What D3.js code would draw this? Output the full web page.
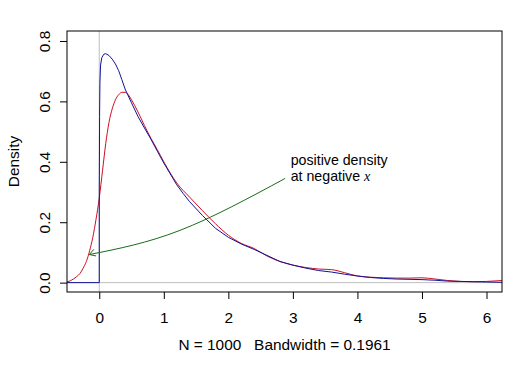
<!DOCTYPE html>
<html>
<head>
<meta charset="utf-8">
<script src="https://cdn.jsdelivr.net/npm/d3@7"></script>
<style>
  body { margin: 0; background: #fff; }
  text { font-family: "Liberation Sans", Arial, sans-serif; fill: #000; }
</style>
</head>
<body>
<div id="chart"></div>
<script>
// Size of the whole picture
let svgWidth = 525;
let svgHeight = 365;
// Plot box margins
let margin = { top: 31, right: 23, bottom: 73, left: 67 };
let width = svgWidth - margin.left - margin.right;
let height = svgHeight - margin.top - margin.bottom;

// Plain kernel density (red)
let redX = [-0.5, -0.45, -0.4, -0.35, -0.3, -0.25, -0.2, -0.15, -0.1, -0.05, 0, 0.05, 0.1, 0.15, 0.2, 0.25, 0.3, 0.35, 0.4, 0.45, 0.5,
            0.6, 0.7, 0.8, 0.9, 1.0, 1.2, 1.4, 1.6, 1.8, 2.0, 2.2, 2.4, 2.6, 2.8, 3.0, 3.2, 3.4, 3.6, 3.8, 4.0, 4.2, 4.4, 4.6, 4.8, 5.0,
            5.2, 5.4, 5.6, 5.8, 6.0, 6.24];
let redY = [0.002, 0.006, 0.012, 0.02, 0.03, 0.048, 0.07, 0.105, 0.15, 0.21, 0.28, 0.37, 0.46, 0.53, 0.575, 0.605, 0.622, 0.63, 0.63, 0.622, 0.605,
            0.565, 0.52, 0.478, 0.44, 0.40, 0.33, 0.283, 0.238, 0.195, 0.157, 0.13, 0.113, 0.088, 0.07, 0.058, 0.05, 0.045, 0.043, 0.033, 0.022, 0.018, 0.016, 0.015, 0.015, 0.016,
            0.012, 0.007, 0.004, 0.003, 0.004, 0.007];

// Boundary corrected density (blue), zero below 0
let blueX = [-0.5, 0, 0, 0.005, 0.01, 0.02, 0.04, 0.07, 0.1, 0.15, 0.2, 0.25, 0.3, 0.35, 0.4, 0.5, 0.6, 0.7, 0.8, 0.9, 1.0, 1.1, 1.2, 1.3, 1.4, 1.6, 1.8, 2.0,
             2.2, 2.4, 2.6, 2.8, 3.0, 3.2, 3.4, 3.6, 3.8, 4.0, 4.2, 4.4, 4.6, 4.8, 5.0, 5.2, 5.4, 5.6, 5.8, 6.0, 6.24];
let blueY = [0, 0, 0.3, 0.55, 0.66, 0.72, 0.745, 0.756, 0.758, 0.752, 0.74, 0.724, 0.702, 0.672, 0.641, 0.595, 0.55, 0.512, 0.475, 0.435, 0.396, 0.36, 0.324, 0.295, 0.268, 0.222, 0.18, 0.15,
             0.128, 0.11, 0.09, 0.07, 0.058, 0.048, 0.04, 0.035, 0.028, 0.022, 0.017, 0.014, 0.012, 0.011, 0.01, 0.008, 0.005, 0.004, 0.003, 0.002, 0.001];

// Arrow path, from label to the tip
let arrowX = [2.88, 1.25, -0.155];
let arrowY = [0.345, 0.173, 0.093];

// Axis ticks
let xTicks = [0, 1, 2, 3, 4, 5, 6];
let yTicks = [0, 0.2, 0.4, 0.6, 0.8];
let yTickLabels = ["0.0", "0.2", "0.4", "0.6", "0.8"];

let svg = d3.select("#chart")
  .append("svg")
  .attr("width", svgWidth)
  .attr("height", svgHeight);

svg.append("rect")
  .attr("width", svgWidth)
  .attr("height", svgHeight)
  .attr("fill", "#fff");

let chartGroup = svg.append("g")
  .attr("transform", `translate(${margin.left}, ${margin.top})`);

// Scales
let xLinearScale = d3.scaleLinear().domain([-0.5, 6.24]).range([0, width]);
let yLinearScale = d3.scaleLinear().domain([-0.031, 0.833]).range([height, 0]);

chartGroup.append("clipPath")
  .attr("id", "clip")
  .append("rect")
  .attr("width", width)
  .attr("height", height);

let plotArea = chartGroup.append("g").attr("clip-path", "url(#clip)");

// Reference lines at x = 0 and y = 0
plotArea.append("line")
  .attr("x1", 0).attr("x2", width)
  .attr("y1", yLinearScale(0)).attr("y2", yLinearScale(0))
  .attr("stroke", "#bebebe");
plotArea.append("line")
  .attr("x1", xLinearScale(0)).attr("x2", xLinearScale(0))
  .attr("y1", 0).attr("y2", height)
  .attr("stroke", "#bebebe");

let line = d3.line()
  .x(d => xLinearScale(d[0]))
  .y(d => yLinearScale(d[1]))
  .curve(d3.curveMonotoneX);

let redData = redX.map((x, i) => [x, redY[i]]);
let blueData = blueX.map((x, i) => [x, blueY[i]]);

plotArea.append("path")
  .datum(redData)
  .attr("d", line)
  .attr("fill", "none")
  .attr("stroke", "#cc1025")
  .attr("stroke-width", 1);

plotArea.append("path")
  .datum(blueData)
  .attr("d", d3.line().x(d => xLinearScale(d[0])).y(d => yLinearScale(d[1])).curve(d3.curveLinear))
  .attr("fill", "none")
  .attr("stroke", "#12129a")
  .attr("stroke-width", 1);

// Green curved arrow
let arrowData = arrowX.map((x, i) => [x, arrowY[i]]);
chartGroup.append("path")
  .datum(arrowData)
  .attr("d", d3.line().x(d => xLinearScale(d[0])).y(d => yLinearScale(d[1])).curve(d3.curveNatural))
  .attr("fill", "none")
  .attr("stroke", "#1a6b1a")
  .attr("stroke-width", 1);

// Arrow head, pointing along the last stretch of the curve
let n = arrowData.length;
let tipX = xLinearScale(arrowX[n - 1]), tipY = yLinearScale(arrowY[n - 1]);
let prevX = xLinearScale(arrowX[n - 2]), prevY = yLinearScale(arrowY[n - 2]);
let ang = Math.atan2(prevY - tipY, prevX - tipX) - 0.06;
let headLen = 7, headAng = Math.PI / 6;
[ang - headAng, ang + headAng].forEach(a => {
  chartGroup.append("line")
    .attr("x1", tipX).attr("y1", tipY)
    .attr("x2", tipX + headLen * Math.cos(a))
    .attr("y2", tipY + headLen * Math.sin(a))
    .attr("stroke", "#1a6b1a");
});

// Box
chartGroup.append("rect")
  .attr("width", width)
  .attr("height", height)
  .attr("fill", "none")
  .attr("stroke", "#000");

// X axis
let bottomAxis = d3.axisBottom(xLinearScale).tickValues(xTicks).tickSize(7).tickPadding(13).tickFormat(d3.format("d"));
let xAxis = chartGroup.append("g")
  .attr("transform", `translate(0, ${height})`)
  .call(bottomAxis);
xAxis.select(".domain").remove();
xAxis.attr("font-family", null);
xAxis.selectAll("text").style("font-size", "15.4px");

// Y axis, labels turned like R does
let leftAxis = d3.axisLeft(yLinearScale).tickValues(yTicks).tickSize(7)
  .tickFormat((d, i) => yTickLabels[i]);
let yAxis = chartGroup.append("g").call(leftAxis);
yAxis.select(".domain").remove();
yAxis.attr("font-family", null);
yAxis.selectAll("text")
  .attr("transform", "rotate(-90)")
  .attr("x", 0)
  .attr("y", -17)
  .attr("dy", 0)
  .style("text-anchor", "middle")
  .style("font-size", "15.4px");

// Axis titles
svg.append("text")
  .attr("x", margin.left + width / 2)
  .attr("y", 350.3)
  .style("text-anchor", "middle")
  .style("font-size", "15.4px")
  .style("white-space", "pre")
  .text("N = 1000   Bandwidth = 0.1961");

svg.append("text")
  .attr("transform", `translate(19, ${margin.top + height / 2}) rotate(-90)`)
  .style("text-anchor", "middle")
  .style("font-size", "15.4px")
  .text("Density");

// Annotation
let note = svg.append("g").style("font-size", "14.2px");
note.append("text").attr("x", 290.7).attr("y", 164.7).text("positive density");
let note2 = note.append("text").attr("x", 290.7).attr("y", 181.3);
note2.append("tspan").text("at negative ");
note2.append("tspan")
  .style("font-family", "'Liberation Serif', 'DejaVu Serif', serif")
  .style("font-style", "italic")
  .text("x");
</script>
</body>
</html>
